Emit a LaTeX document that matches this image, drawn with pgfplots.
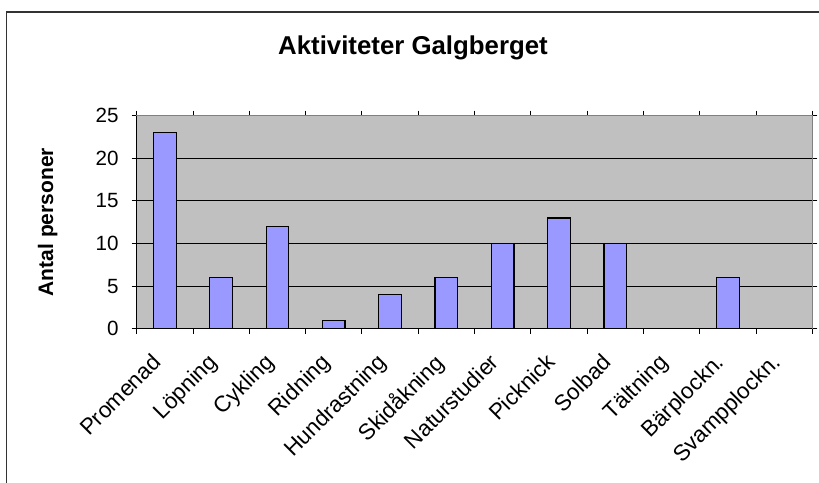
\documentclass[border=0pt]{standalone}
\usepackage{pgfplots}
\pgfplotsset{compat=1.18}
\usepackage{fontspec}
\setmainfont{Liberation Sans}
\definecolor{plotbg}{HTML}{C0C0C0}
\definecolor{barfill}{HTML}{9999FF}
\definecolor{framecol}{HTML}{333333}
\begin{document}
\begin{tikzpicture}
\begin{axis}[
  at={(68.35pt,76.65pt)}, anchor=south west,
  scale only axis, width=337.8pt, height=106.5pt,
  xmin=-0.5, xmax=11.5, ymin=0, ymax=25,
  enlargelimits=false,
  ybar, bar width=0.4,
  xtick={0,...,11},
  xticklabels={Promenad,Löpning,Cykling,Ridning,Hundrastning,Skidåkning,Naturstudier,Picknick,Solbad,Tältning,Bärplockn.,Svampplockn.},
  major x tick style={draw=none},
  minor xtick={-0.5,0.5,...,11.5},
  minor x tick style={black, line width=0.5pt},
  tick align=outside,
  major tick length=2.5pt, minor tick length=2.5pt,
  ytick={0,5,...,25},
  ymajorgrids, grid style={black, line width=0.5pt},
  y tick style={black, line width=0.5pt},
  axis background/.style={fill=plotbg},
  axis line style={draw=gray, line width=0.6pt},
  tick label style={font=\fontsize{10.3}{12}\selectfont},
  /pgf/number format/assume math mode=true,
  yticklabel style={xshift=-3pt},
  xticklabel style={font=\fontsize{11.2}{13}\selectfont, xshift=-7pt, yshift=-9pt, inner sep=0pt, rotate=45, anchor=north east},
  ylabel={Antal personer},
  ylabel style={font=\bfseries\fontsize{10.5}{12}\selectfont, at={(axis description cs:0,0.5)}, anchor=center, yshift=44.5pt},
  after end axis/.code={
    \draw[black, line width=0.6pt] (rel axis cs:0,0) -- (rel axis cs:0,1);
    \draw[black, line width=0.6pt] (rel axis cs:0,0) -- (rel axis cs:1,0);
  },
]
\addplot[fill=barfill, draw=black, line width=0.6pt] coordinates {
  (0,23) (1,6) (2,12) (3,1) (4,4) (5,6) (6,10) (7,13) (8,10) (9,0) (10,6) (11,0)
};
\end{axis}
\node[font=\bfseries\fontsize{12.9}{15}\selectfont, anchor=base] at (206.5pt,213.5pt) {Aktiviteter Galgberget};
\draw[line width=0.65pt, draw=framecol] (3.35pt,-10pt) -- (3.35pt,235pt) -- (420pt,235pt);
\pgfresetboundingbox
\path[use as bounding box] (0,0) rectangle (409.5pt,241pt);
\end{tikzpicture}
\end{document}
